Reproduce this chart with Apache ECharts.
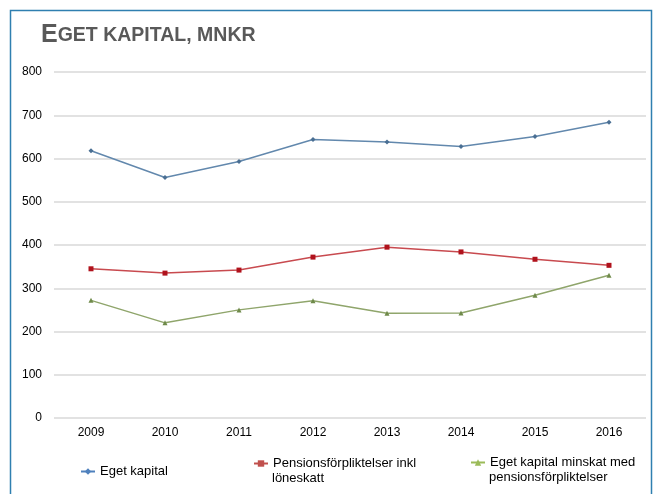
<!DOCTYPE html>
<html lang="sv" style="height: 100%">
<head>
  <meta charset="utf-8">
</head>
<body style="height: 100%; margin: 0; background: #fff">
  <div id="container" style="width: 657px; height: 494px"></div>
  <script type="text/javascript" src="https://fastly.jsdelivr.net/npm/echarts@6/dist/echarts.min.js"></script>
  <script type="text/javascript">
    // data
    var years = ['2009', '2010', '2011', '2012', '2013', '2014', '2015', '2016'];
    var egetKapital = [618, 556, 593, 644, 638, 628, 651, 684];
    var pension = [345, 335, 342, 372, 395, 384, 367, 353];
    var egetMinskat = [272, 220, 250, 271, 242, 243, 284, 330];
    var names = ['Eget kapital', 'Pensionsförpliktelser inkl\nlöneskatt', 'Eget kapital minskat med\npensionsförpliktelser'];

    var dom = document.getElementById('container');
    var myChart = echarts.init(dom, null, { renderer: 'canvas' });

    var font = 'Liberation Sans, Arial, sans-serif';
    var legendText = { color: '#000', fontSize: 13, fontFamily: font, lineHeight: 15 };
    var firstLine = function (n) { return n.split('\n')[0]; };

    // legend entries use the brighter excel colours
    function legendItem(name, color) {
      return { name: name, itemStyle: { color: color }, lineStyle: { color: color, width: 2 } };
    }

    var option = {
      backgroundColor: '#fff',
      animation: false,
      title: {
        text: '{a|E}{b|GET KAPITAL, MNKR}',
        left: 36,
        top: 18,
        textStyle: {
          rich: {
            a: { fontSize: 25, fontWeight: 'bold', color: '#595959', fontFamily: font },
            b: { fontSize: 19.5, fontWeight: 'bold', color: '#595959', fontFamily: font }
          }
        }
      },
      graphic: [
        {
          type: 'rect',
          shape: { x: 10.5, y: 10.5, width: 641, height: 520 },
          style: { fill: 'none', stroke: '#2f7fb0', lineWidth: 1.5 }
        },
        {
          type: 'text', left: 272, top: 472,
          style: { text: names[1].split('\n')[1], fill: '#000', fontSize: 13, fontFamily: font }
        },
        {
          type: 'text', left: 489, top: 471,
          style: { text: names[2].split('\n')[1], fill: '#000', fontSize: 13, fontFamily: font }
        }
      ],
      legend: [
        { data: [legendItem(names[0], '#4f81bd')], left: 80, top: 464, padding: 0, itemWidth: 14, itemHeight: 8, formatter: firstLine, textStyle: legendText },
        { data: [legendItem(names[1], '#c0504d')], left: 253, top: 456, padding: 0, itemWidth: 14, itemHeight: 8, formatter: firstLine, textStyle: legendText },
        { data: [legendItem(names[2], '#9bbb59')], left: 470, top: 455, padding: 0, itemWidth: 14, itemHeight: 8, formatter: firstLine, textStyle: legendText }
      ],
      grid: {
        left: 54,
        right: 11,
        top: 72,
        bottom: 76,
        containLabel: false
      },
      xAxis: {
        type: 'category',
        data: years,
        boundaryGap: true,
        axisLine: { show: false },
        axisTick: { show: false },
        axisLabel: { color: '#000', fontSize: 12, fontFamily: font, margin: 9 }
      },
      yAxis: {
        type: 'value',
        min: 0,
        max: 800,
        interval: 100,
        axisLine: { show: false },
        axisTick: { show: false },
        axisLabel: { color: '#000', fontSize: 12, fontFamily: font, margin: 12 },
        splitLine: { lineStyle: { color: '#d9d9d9', width: 1.5 } }
      },
      series: [
        {
          name: names[0],
          type: 'line',
          data: egetKapital,
          symbol: 'diamond',
          symbolSize: 5,
          lineStyle: { color: '#6288ad', width: 1.5 },
          itemStyle: { color: '#4a6f93' }
        },
        {
          name: names[1],
          type: 'line',
          data: pension,
          symbol: 'rect',
          symbolSize: 5,
          lineStyle: { color: '#c84a4f', width: 1.5 },
          itemStyle: { color: '#b0121c' }
        },
        {
          name: names[2],
          type: 'line',
          data: egetMinskat,
          symbol: 'triangle',
          symbolSize: 5,
          lineStyle: { color: '#8fa56b', width: 1.5 },
          itemStyle: { color: '#6f8a4a' }
        }
      ]
    };

    myChart.setOption(option);
    window.addEventListener('resize', myChart.resize);
  </script>
</body>
</html>
